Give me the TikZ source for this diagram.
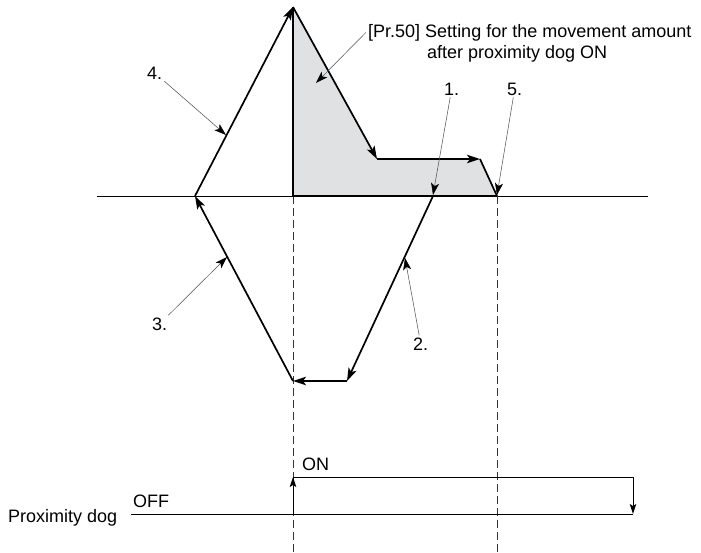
\documentclass[tikz,border=0pt]{standalone}
\usepackage{fontspec}
\setmainfont{Liberation Sans}
\usetikzlibrary{arrows.meta}
\definecolor{areagray}{HTML}{E0E1E3}
\definecolor{leadgray}{HTML}{4A4A4A}
\tikzset{
  move/.style={-{Stealth[length=13pt,width=8.5pt,inset=3pt]}, line width=1.7pt, black},
  plain/.style={line width=1.7pt, black},
  boldline/.style={line width=2.8pt, black},
  axisline/.style={line width=1pt, black},
  guide/.style={line width=0.9pt, dash pattern=on 8pt off 4pt, black!80},
  leader/.style={-{Stealth[length=12pt,width=8pt,inset=3pt,color=black]}, line width=0.5pt, leadgray},
  lbl/.style={inner sep=2pt, anchor=base west, font=\fontsize{18}{21}\selectfont},
  sig/.style={line width=1pt, black},
  sigarr/.style={sig, -{Stealth[length=10pt,width=6.5pt,inset=2pt]}},
}
\begin{document}
\begin{tikzpicture}[x=1pt,y=-1pt]
  \useasboundingbox (0,0) rectangle (701,552);
  % points of the travel path
  \coordinate (s1) at (433,196);
  \coordinate (b2) at (347,381);
  \coordinate (b3) at (293,381);
  \coordinate (a3) at (195,196);
  \coordinate (top) at (293,7);
  \coordinate (k1) at (377,159);
  \coordinate (k2) at (480,159);
  \coordinate (stop) at (497,196);
  \coordinate (dogon) at (293,196);
  \coordinate (axL) at (97,196);
  \coordinate (axR) at (648,196);
  \coordinate (g1) at (293,552);
  \coordinate (g2) at (497,552);
  % shaded movement amount
  \fill[areagray] (top) -- (k1) -- (k2) -- (stop) -- (dogon) -- cycle;
  \draw[axisline] (axL) -- (axR);
  \draw[guide] (dogon) -- (g1);
  \draw[guide] (stop) -- (g2);
  \draw[boldline] (dogon) -- (top);
  \draw[boldline] (dogon) -- (stop);
  % travel
  \draw[move] (s1) -- (b2);
  \draw[move] (b2) -- (b3);
  \draw[move] (b3) -- (a3);
  \draw[move] (a3) -- (top);
  \draw[move] (top) -- (k1);
  \draw[move] (k1) -- (k2);
  \draw[plain] (k2) -- (stop);
  % labels and leaders
  \coordinate (p4) at (226,135);
  \coordinate (p3) at (227,257);
  \coordinate (p2) at (405,258);
  \coordinate (p1) at (433,195);
  \coordinate (p5) at (497,195);
  \coordinate (p50) at (316,83);
  \node[lbl] (l4) at (145,79) {4.};
  \node[lbl] (l3) at (150,330) {3.};
  \node[lbl] (l2) at (411,350) {2.};
  \node[lbl] (l1) at (442,95) {1.};
  \node[lbl] (l5) at (505,95) {5.};
  \node[lbl] (prA) at (366,37) {[Pr.50] Setting for the movement amount};
  \node[lbl] (prB) at (425,58) {after proximity dog ON};
  \draw[leader] (l4) -- (p4);
  \draw[leader] (l3) -- (p3);
  \draw[leader] (l2) -- (p2);
  \draw[leader] (l1) -- (p1);
  \draw[leader] (l5) -- (p5);
  \draw[leader] (prA.west) -- (p50);
  % proximity dog signal
  \coordinate (lowL) at (131,514);
  \coordinate (up0) at (293,514);
  \coordinate (up1) at (293,477);
  \coordinate (dn0) at (633,477);
  \coordinate (dn1) at (633,514);
  \draw[sig] (lowL) -- (dn1);
  \draw[sigarr] (up0) -- (up1);
  \draw[sig] (up1) -- (dn0);
  \draw[sigarr] (dn0) -- (dn1);
  \node[lbl] (on) at (300,470) {ON};
  \node[lbl] (off) at (131,507) {OFF};
  \node[lbl] (dog) at (6,522) {Proximity dog};
\end{tikzpicture}
\end{document}
